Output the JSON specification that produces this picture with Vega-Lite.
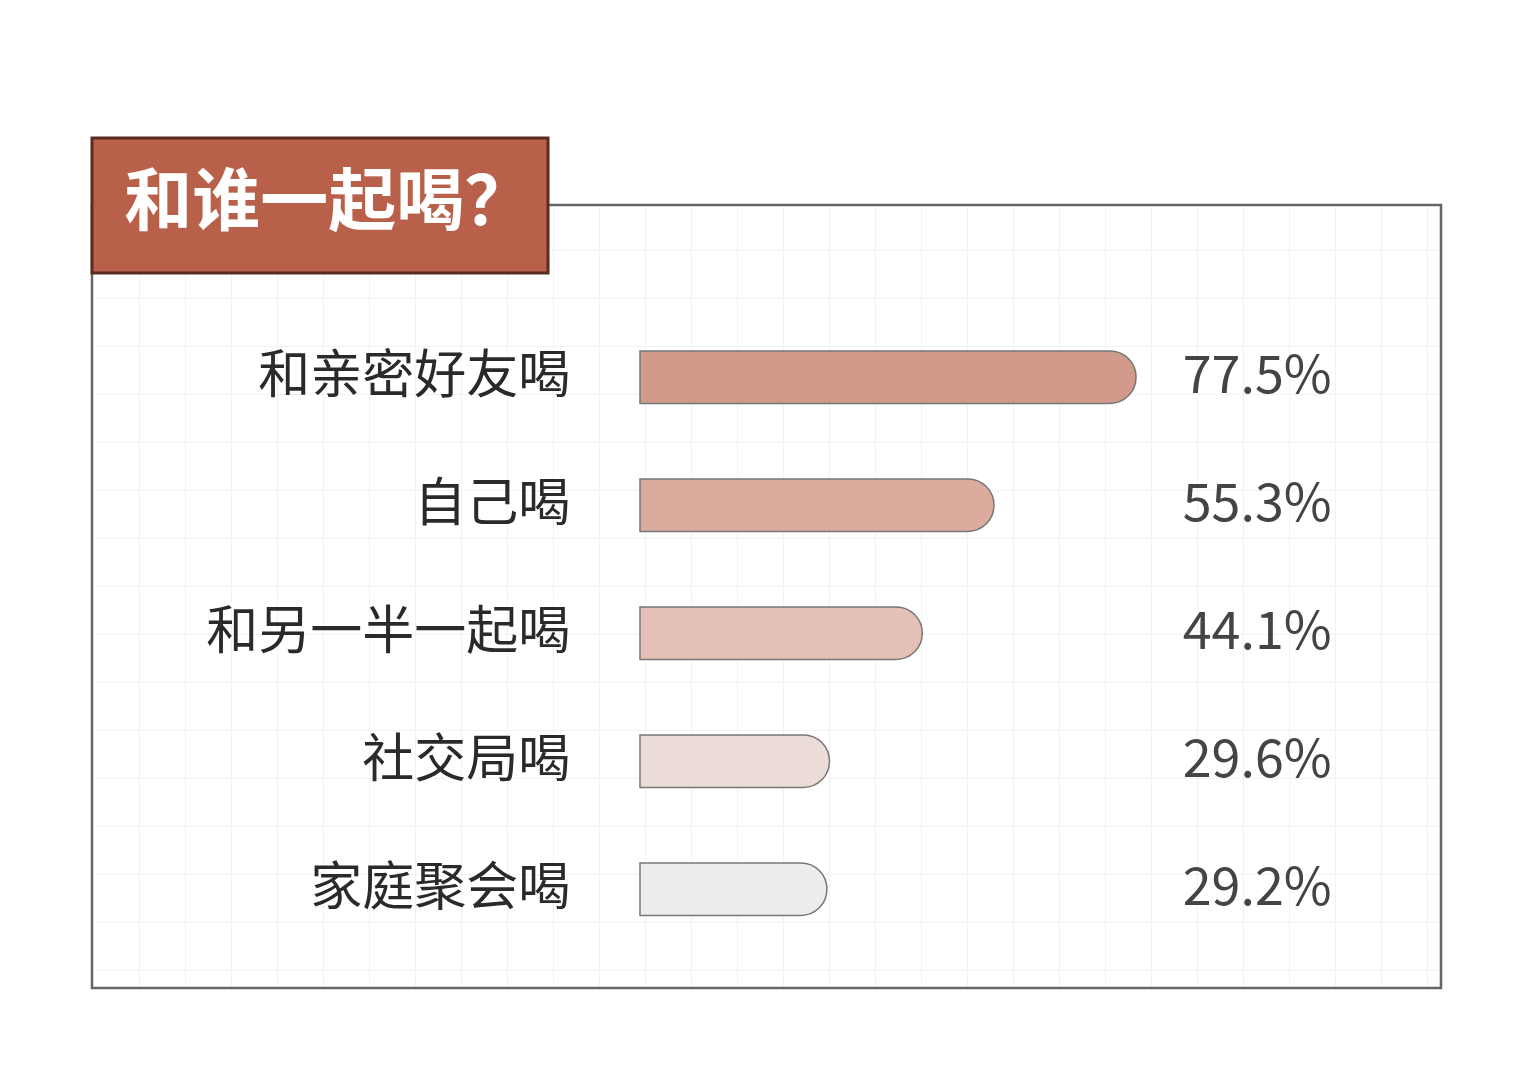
{
  "$schema": "https://vega.github.io/schema/vega-lite/v6.json",
  "width": 1349,
  "height": 783,
  "autosize": "none",
  "padding": {"left": 92, "top": 205, "right": 92, "bottom": 92},
  "background": "white",
  "config": {
    "view": {"stroke": null},
    "font": "Noto Sans CJK SC",
    "axis": {
      "grid": true,
      "gridColor": "#f2f2f2",
      "gridWidth": 1,
      "labels": false,
      "ticks": false,
      "domain": false,
      "title": null
    }
  },
  "layer": [
    {
      "data": {"values": [{"title": "和谁一起喝？"}]},
      "layer": [
        {
          "mark": {"type": "rect", "filled": false, "stroke": "#666666", "strokeWidth": 2.5},
          "encoding": {
            "x": {
              "datum": -85.625,
              "type": "quantitative",
              "scale": {"domain": [-85.625, 125.156], "nice": false, "zero": false},
              "axis": {
                "values": [-78.28, -71.09, -63.91, -56.72, -49.53, -42.34, -35.16, -27.97, -20.78, -13.59, -6.41, 0.78, 7.97, 15.16, 22.34, 29.53, 36.72, 43.91, 51.09, 58.28, 65.47, 72.66, 79.84, 87.03, 94.22, 101.41, 108.59, 115.78, 122.97]
              }
            },
            "x2": {"datum": 125.156},
            "y": {
              "datum": 0,
              "type": "quantitative",
              "scale": {"domain": [0, 100], "nice": false, "zero": false},
              "axis": {
                "values": [94.25, 88.12, 81.99, 75.86, 69.73, 63.6, 57.47, 51.34, 45.21, 39.08, 32.95, 26.82, 20.69, 14.56, 8.43, 2.3]
              }
            },
            "y2": {"datum": 100}
          }
        },
        {
          "mark": {"type": "rect", "fill": "#b9604b", "stroke": "#5b2b22", "strokeWidth": 3},
          "encoding": {
            "x": {"datum": -85.625, "type": "quantitative"},
            "x2": {"datum": -14.375},
            "y": {"datum": 108.56, "type": "quantitative"},
            "y2": {"datum": 91.32}
          }
        },
        {
          "mark": {
            "type": "text",
            "align": "left",
            "baseline": "middle",
            "fontSize": 68,
            "fontWeight": "bold",
            "color": "#ffffff"
          },
          "encoding": {
            "x": {"datum": -80.6, "type": "quantitative"},
            "y": {"datum": 100, "type": "quantitative"},
            "text": {"field": "title"}
          }
        }
      ]
    },
    {
      "data": {
        "values": [
          {"who": "和亲密好友喝", "pct": 77.5},
          {"who": "自己喝", "pct": 55.3},
          {"who": "和另一半一起喝", "pct": 44.1},
          {"who": "社交局喝", "pct": 29.6},
          {"who": "家庭聚会喝", "pct": 29.2}
        ]
      },
      "transform": [
        {"calculate": "format(datum.pct, '.1f') + '%'", "as": "label"}
      ],
      "encoding": {
        "y": {
          "field": "who",
          "type": "nominal",
          "sort": null,
          "scale": {"paddingInner": 0.59, "paddingOuter": 0.8535, "align": 0.668},
          "axis": null
        }
      },
      "layer": [
        {
          "mark": {
            "type": "bar",
            "cornerRadiusTopRight": 26,
            "cornerRadiusBottomRight": 26,
            "stroke": "#777777",
            "strokeWidth": 1.5
          },
          "encoding": {
            "x": {
              "field": "pct",
              "type": "quantitative",
              "scale": {"domain": [-85.625, 125.156], "nice": false, "zero": false}
            },
            "x2": {"datum": 0},
            "color": {
              "field": "who",
              "type": "nominal",
              "sort": null,
              "scale": {
                "domain": ["和亲密好友喝", "自己喝", "和另一半一起喝", "社交局喝", "家庭聚会喝"],
                "range": ["#d19a8b", "#dbac9e", "#e4c0b7", "#ecdcd8", "#ececec"]
              },
              "legend": null
            }
          }
        },
        {
          "mark": {
            "type": "text",
            "align": "right",
            "baseline": "middle",
            "fontSize": 52,
            "color": "#2a2a2a"
          },
          "encoding": {
            "x": {"datum": -10.9, "type": "quantitative"},
            "text": {"field": "who"}
          }
        },
        {
          "mark": {
            "type": "text",
            "align": "left",
            "baseline": "middle",
            "fontSize": 52,
            "color": "#444444"
          },
          "encoding": {
            "x": {"datum": 84.8, "type": "quantitative"},
            "text": {"field": "label"}
          }
        }
      ]
    }
  ],
  "resolve": {"scale": {"y": "independent"}}
}
